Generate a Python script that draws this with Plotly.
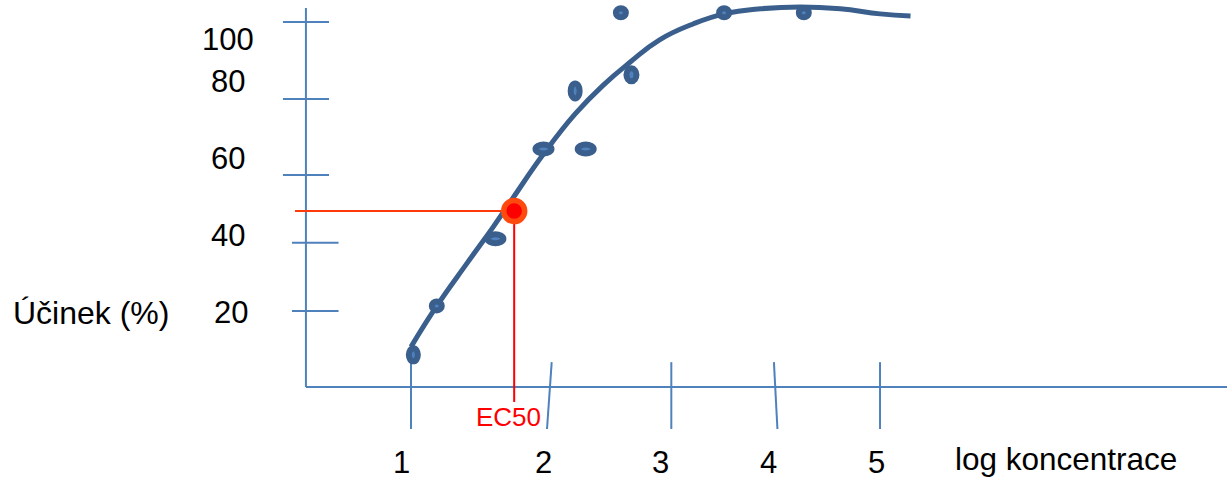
import plotly.graph_objects as go

# ---------------- data ----------------
# measured points: log concentration vs. effect (%)
point_x = [1.02, 1.22, 1.72, 2.13, 2.49, 2.40, 2.79, 2.88, 3.67, 4.35]
point_y = [8.8, 22.2, 40.6, 65.2, 65.2, 81.1, 102.5, 85.5, 102.5, 102.5]

# fitted dose-response curve
curve_x = [1.00, 1.22, 1.48, 1.70, 1.87, 2.13, 2.40, 2.64, 2.87, 3.12,
           3.41, 3.67, 3.98, 4.32, 4.66, 5.00, 5.26]
curve_y = [11.0, 22.2, 34.0, 43.8, 51.8, 63.8, 74.8, 82.7, 89.0, 95.1,
           99.5, 102.2, 103.6, 104.1, 103.6, 102.2, 101.6]

# EC50 point
ec50_x = 1.88
ec50_y = 48.2

# axis ticks (hand-drawn positions) and their labels
x_tick_vals = [1.00, 2.18, 3.22, 4.11, 5.00]
x_label_vals = [0.92, 2.13, 3.13, 4.05, 4.97]
x_tick_text = ["1", "2", "3", "4", "5"]

y_tick_vals = [100.0, 78.9, 58.1, 39.5, 20.8]
y_label_vals = [95.3, 83.6, 62.5, 41.4, 20.3]
y_tick_text = ["100", "80", "60", "40", "20"]

x_title = "log koncentrace"
y_title = "Účinek (%)"
ec50_text = "EC50"

# ---------------- figure ----------------
AX = "#4F81BD"
DARK = "#3A5F8D"
FONT = "Liberation Sans, Arial, sans-serif"

X_RANGE = [-2.505, 7.959]
Y_RANGE = [-25.2, 106.0]
x_axis_pos = 0.104   # where the vertical axis sits
y_axis_top = 103.8

fig = go.Figure()
shapes = []
annotations = []

# axes lines
shapes.append(dict(type="line", xref="x", yref="y", x0=x_axis_pos, x1=X_RANGE[1],
                   y0=0, y1=0, line=dict(color=AX, width=2), layer="below"))
shapes.append(dict(type="line", xref="x", yref="y", x0=x_axis_pos, x1=x_axis_pos,
                   y0=0, y1=y_axis_top, line=dict(color=AX, width=2), layer="below"))

# x ticks (vertical marks crossing the axis, slightly hand-slanted)
x_tick_lean = [0.0, 0.02, 0.0, -0.015, 0.0]
for xv, lean in zip(x_tick_vals, x_tick_lean):
    shapes.append(dict(type="line", xref="x", yref="y", x0=xv + lean, x1=xv - lean,
                       y0=6.8, y1=-11.5, line=dict(color=AX, width=2), layer="below"))
# y ticks (horizontal marks crossing the axis)
for i, yv in enumerate(y_tick_vals):
    x0, x1 = (-0.092, 0.301) if i < 3 else (-0.015, 0.382)
    shapes.append(dict(type="line", xref="x", yref="y", x0=x0, x1=x1,
                       y0=yv, y1=yv, line=dict(color=AX, width=2), layer="below"))

# EC50 guide lines
shapes.append(dict(type="line", xref="x", yref="y", x0=0.011, x1=ec50_x,
                   y0=ec50_y, y1=ec50_y, line=dict(color="#FF3A0A", width=2), layer="below"))
shapes.append(dict(type="line", xref="x", yref="y", x0=ec50_x, x1=ec50_x,
                   y0=ec50_y, y1=-4.1, line=dict(color="#FF0000", width=2), layer="below"))

# points as markers (covered by the ellipse glyphs below)
fig.add_trace(go.Scatter(x=point_x, y=point_y, mode="markers",
                         marker=dict(size=8, color=DARK), hoverinfo="skip"))

# curve
fig.add_trace(go.Scatter(x=curve_x, y=curve_y, mode="lines",
                         line=dict(color=DARK, width=5, shape="spline", smoothing=1.3),
                         hoverinfo="skip"))

# EC50 marker
fig.add_trace(go.Scatter(x=[ec50_x], y=[ec50_y], mode="markers",
                         marker=dict(size=21, color="#FF0000",
                                     line=dict(color="#FF4A0F", width=5.5)),
                         hoverinfo="skip"))

# ellipse glyphs for points (pixel sized, anchored at data)
ellipse_px = [(15, 19), (16, 15), (22, 15), (22, 15), (22, 15),
              (15, 21), (16, 15), (16, 19), (16, 15), (16, 15)]
SW = 6
for (px, py), (w, h) in zip(zip(point_x, point_y), ellipse_px):
    pw, ph = w - SW, h - SW
    shapes.append(dict(type="circle", xref="x", yref="y",
                       xsizemode="pixel", ysizemode="pixel",
                       xanchor=px, yanchor=py,
                       x0=-pw / 2, x1=pw / 2, y0=-ph / 2, y1=ph / 2,
                       fillcolor="#4F81BD", line=dict(color=DARK, width=SW),
                       layer="above"))

# labels
TXT = 31
for xv, t in zip(x_label_vals, x_tick_text):
    annotations.append(dict(x=xv, y=-20.8, xref="x", yref="y", text=t, showarrow=False,
                            font=dict(family=FONT, size=TXT, color="#000000"),
                            xanchor="center", yanchor="middle"))
for i, (yv, t) in enumerate(zip(y_label_vals, y_tick_text)):
    annotations.append(dict(x=-0.56 if i < 4 else -0.535, y=yv, xref="x", yref="y",
                            text=t, showarrow=False,
                            font=dict(family=FONT, size=TXT, color="#000000"),
                            xanchor="center", yanchor="middle"))
annotations.append(dict(x=6.586, y=-25.2, xref="x", yref="y", text=x_title, showarrow=False,
                        font=dict(family=FONT, size=31.5, color="#000000"),
                        xanchor="center", yanchor="bottom"))
annotations.append(dict(x=-1.729, y=20.3, xref="x", yref="y", text=y_title, showarrow=False,
                        font=dict(family=FONT, size=32, color="#000000"),
                        xanchor="center", yanchor="middle"))
annotations.append(dict(x=1.83, y=-8.2, xref="x", yref="y", text=ec50_text, showarrow=False,
                        font=dict(family=FONT, size=26, color="#FF0000"),
                        xanchor="center", yanchor="middle"))

fig.update_layout(
    width=1227, height=479,
    margin=dict(l=0, r=0, t=0, b=0, pad=0),
    paper_bgcolor="white", plot_bgcolor="white",
    showlegend=False, hovermode=False,
    xaxis=dict(range=X_RANGE, visible=False, fixedrange=True),
    yaxis=dict(range=Y_RANGE, visible=False, fixedrange=True),
    shapes=shapes, annotations=annotations,
)

fig.write_html("out.html", config={"displayModeBar": False},
               post_script="document.body.style.margin='0';document.body.style.overflow='hidden';")
